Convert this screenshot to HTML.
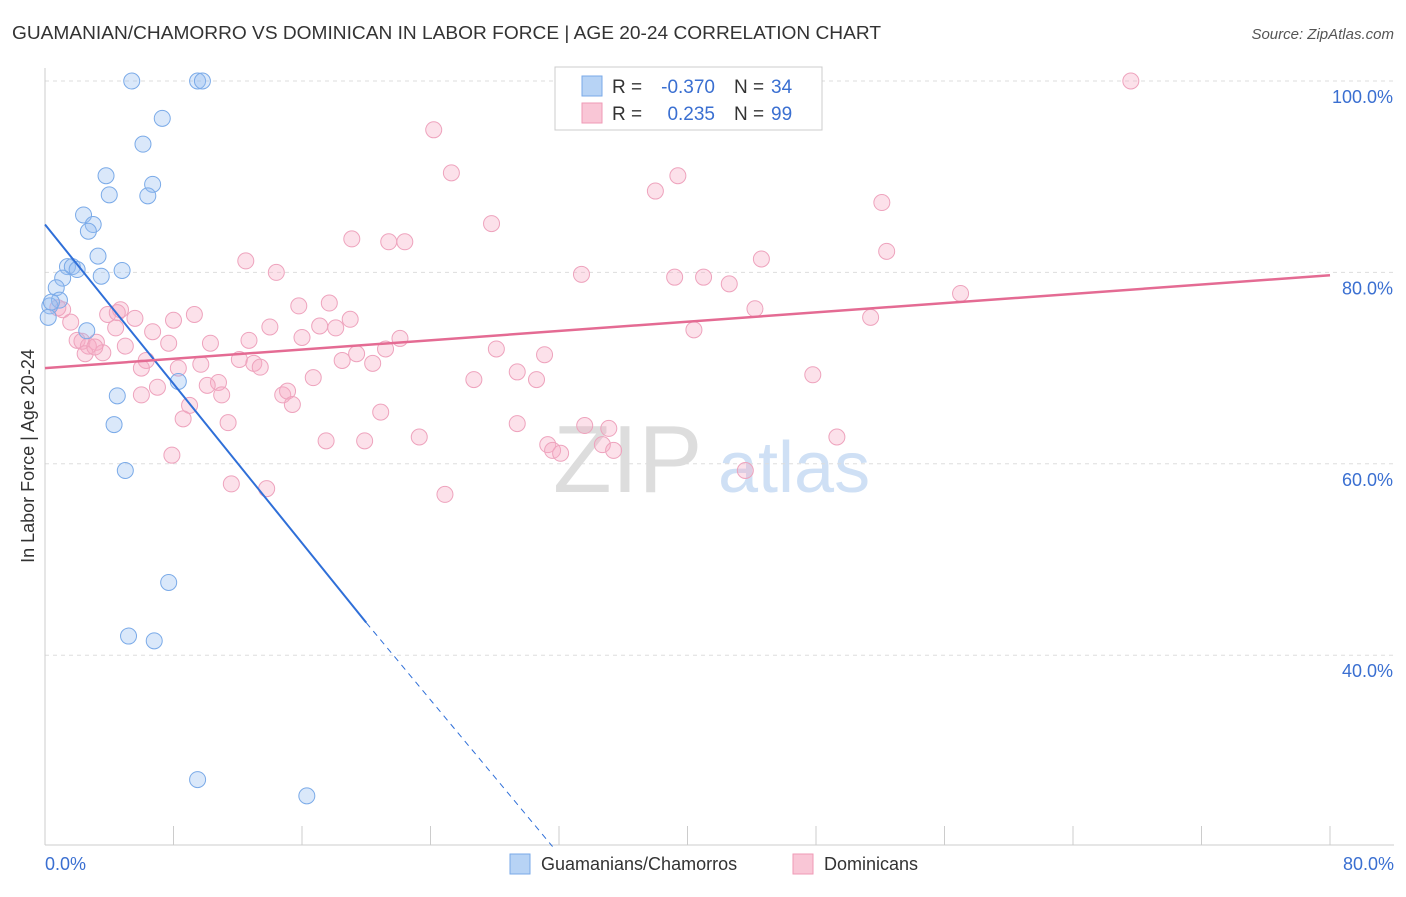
<!DOCTYPE html>
<html><head><meta charset="utf-8"><style>
body{margin:0;background:#fff;font-family:"Liberation Sans",sans-serif;}
svg text{font-family:"Liberation Sans",sans-serif;}
</style></head><body>
<svg id="c" width="1406" height="892">
<text x="12" y="39" font-size="18" fill="#333" textLength="869" lengthAdjust="spacingAndGlyphs">GUAMANIAN/CHAMORRO VS DOMINICAN IN LABOR FORCE | AGE 20-24 CORRELATION CHART</text>
<text x="1394" y="39" font-size="15" fill="#555" text-anchor="end" font-style="italic">Source: ZipAtlas.com</text>
<text x="34" y="456" font-size="18" fill="#333" text-anchor="middle" transform="rotate(-90 34 456)">In Labor Force | Age 20-24</text>
<g><text x="553" y="492" font-size="96" fill="#ddd" font-family="Liberation Serif">ZIP</text><text x="718" y="492" font-size="72" fill="#cfe0f5">atlas</text></g>
<g id="grid"></g><g id="marks"></g>
<g>
<rect x="555" y="67" width="267" height="63" fill="#fff" stroke="#ccc"/>
<rect x="582" y="76" width="20" height="20" fill="#b7d3f5" stroke="#7aaae8"/>
<rect x="582" y="103" width="20" height="20" fill="#f9c6d6" stroke="#ef9ab6"/>
<text x="612" y="93" font-size="19" fill="#333">R =</text>
<text x="715" y="93" font-size="19" fill="#3a6fd1" text-anchor="end">-0.370</text>
<text x="734" y="93" font-size="19" fill="#333">N =</text>
<text x="771" y="93" font-size="19" fill="#3a6fd1">34</text>
<text x="612" y="120" font-size="19" fill="#333">R =</text>
<text x="715" y="120" font-size="19" fill="#3a6fd1" text-anchor="end">0.235</text>
<text x="734" y="120" font-size="19" fill="#333">N =</text>
<text x="771" y="120" font-size="19" fill="#3a6fd1">99</text>
</g>
<g>
<rect x="510" y="854" width="20" height="20" fill="#b7d3f5" stroke="#7aaae8"/>
<text x="541" y="870" font-size="18" fill="#333">Guamanians/Chamorros</text>
<rect x="793" y="854" width="20" height="20" fill="#f9c6d6" stroke="#ef9ab6"/>
<text x="824" y="870" font-size="18" fill="#333">Dominicans</text>
</g>
</svg>
<script>
const blueX=[5.4,9.5,9.8,7.3,6.1,3.8,6.7,4.0,6.4,2.4,3.0,2.7,3.3,1.4,1.7,2.0,4.8,3.5,1.1,0.7,0.9,0.3,0.2,2.6,8.3,4.5,4.3,5.0,7.7,5.2,6.8,9.5,16.3,0.4];
const blueY=[100,100,100,96.1,93.4,90.1,89.2,88.1,88.0,86.0,85.0,84.3,81.7,80.6,80.6,80.3,80.2,79.6,79.4,78.4,77.1,76.5,75.3,73.9,68.6,67.1,64.1,59.3,47.6,42.0,41.5,27.0,25.3,76.9];
const pinkX=[67.6,24.2,25.3,39.4,38.0,52.1,27.8,19.1,21.4,22.4,52.4,12.5,44.6,14.4,33.4,39.2,41.0,42.6,57.0,15.8,17.7,44.2,9.3,3.9,4.7,5.6,19.0,51.4,17.1,18.1,14.0,4.4,6.7,40.4,22.1,16.0,12.7,10.3,7.7,3.2,2.0,2.3,2.7,3.6,5.0,19.4,28.1,31.1,18.5,21.2,20.4,6.3,12.1,13.0,13.4,8.3,9.7,29.4,30.6,26.7,47.8,16.7,10.8,10.1,7.0,6.0,11.0,14.8,15.1,15.4,9.0,20.9,8.6,11.4,29.4,33.6,35.1,31.3,31.6,32.1,34.7,35.4,49.3,23.3,17.5,19.9,7.9,43.6,11.6,13.8,24.9,1.1,0.8,1.6,2.5,3.1,4.5,6.0,8.0];
const pinkY=[100,94.9,90.4,90.1,88.5,87.3,85.1,83.5,83.2,83.2,82.2,81.2,81.4,80.0,79.8,79.5,79.5,78.8,77.8,76.5,76.8,76.2,75.6,75.6,76.1,75.2,75.1,75.3,74.4,74.2,74.3,74.2,73.8,74.0,73.1,73.2,72.9,72.6,72.6,72.7,72.9,72.8,72.3,71.6,72.3,71.5,72.0,71.4,70.8,72.0,70.5,70.8,70.9,70.5,70.1,70.0,70.4,69.6,68.8,68.8,69.3,69.0,68.5,68.2,68.0,67.2,67.2,67.2,67.6,66.2,66.1,65.4,64.7,64.3,64.2,64.0,63.7,62.0,61.4,61.1,62.0,61.4,62.8,62.8,62.4,62.4,60.9,59.3,57.9,57.4,56.8,76.1,76.3,74.8,71.5,72.2,75.8,70.0,75.0];
const yTicks=[100,80,60,40];
const xTickLabels=["0.0%","80.0%"];
const blueLine=[0,85,20,43.4,31.6,20];
const pinkLine=[0,70,80,79.7];
const ns="http://www.w3.org/2000/svg";
const X=v=>45+v*1285/80, Y=v=>81+(100-v)*9.57;
function mk(t,a,p){const e=document.createElementNS(ns,t);for(const k in a)e.setAttribute(k,a[k]);p.appendChild(e);return e;}
const g=document.getElementById('grid'),m=document.getElementById('marks');
yTicks.forEach(t=>{const l=mk('line',{x1:45,x2:1394,y1:Y(t),y2:Y(t),stroke:'#ddd','stroke-dasharray':'4 4'},g);


const tx=mk('text',{x:1393,y:Y(t)+22,'font-size':18,fill:'#3a6fd1','text-anchor':'end'},g);tx.textContent=t.toFixed(1)+'%';

});
const ax=mk('line',{x1:45,x2:45,y1:68,y2:845,stroke:'#ccc'},g);


const bx=mk('line',{x1:45,x2:1394,y1:845,y2:845,stroke:'#ccc'},g);


for(let i=0;i<=10;i++){const l=mk('line',{x1:X(i*8),x2:X(i*8),y1:826,y2:845,stroke:'#ccc'},g);

}
[[0,'start',45],[80,'end',1394]].forEach((d,i)=>{const t=mk('text',{x:d[2],y:870,'font-size':18,fill:'#3a6fd1','text-anchor':d[1]},g);t.textContent=xTickLabels[i];

});
pinkX.forEach((x,i)=>{const c=mk('circle',{cx:X(x),cy:Y(pinkY[i]),r:8,fill:'rgba(245,170,195,0.35)',stroke:'#eea3bd','stroke-width':1},m);

});
blueX.forEach((x,i)=>{const c=mk('circle',{cx:X(x),cy:Y(blueY[i]),r:8,fill:'rgba(150,190,240,0.35)',stroke:'#7aaae8','stroke-width':1},m);

});
let l1=mk('line',{x1:X(blueLine[0]),y1:Y(blueLine[1]),x2:X(blueLine[2]),y2:Y(blueLine[3]),stroke:'#2f6fd8','stroke-width':2},m);


let l2=mk('line',{x1:X(blueLine[2]),y1:Y(blueLine[3]),x2:X(blueLine[4]),y2:Y(blueLine[5]),stroke:'#2f6fd8','stroke-width':1,'stroke-dasharray':'6 5'},m);


let l3=mk('line',{x1:X(pinkLine[0]),y1:Y(pinkLine[1]),x2:X(pinkLine[2]),y2:Y(pinkLine[3]),stroke:'#e46b93','stroke-width':2.5},m);


</script>
</body></html>
